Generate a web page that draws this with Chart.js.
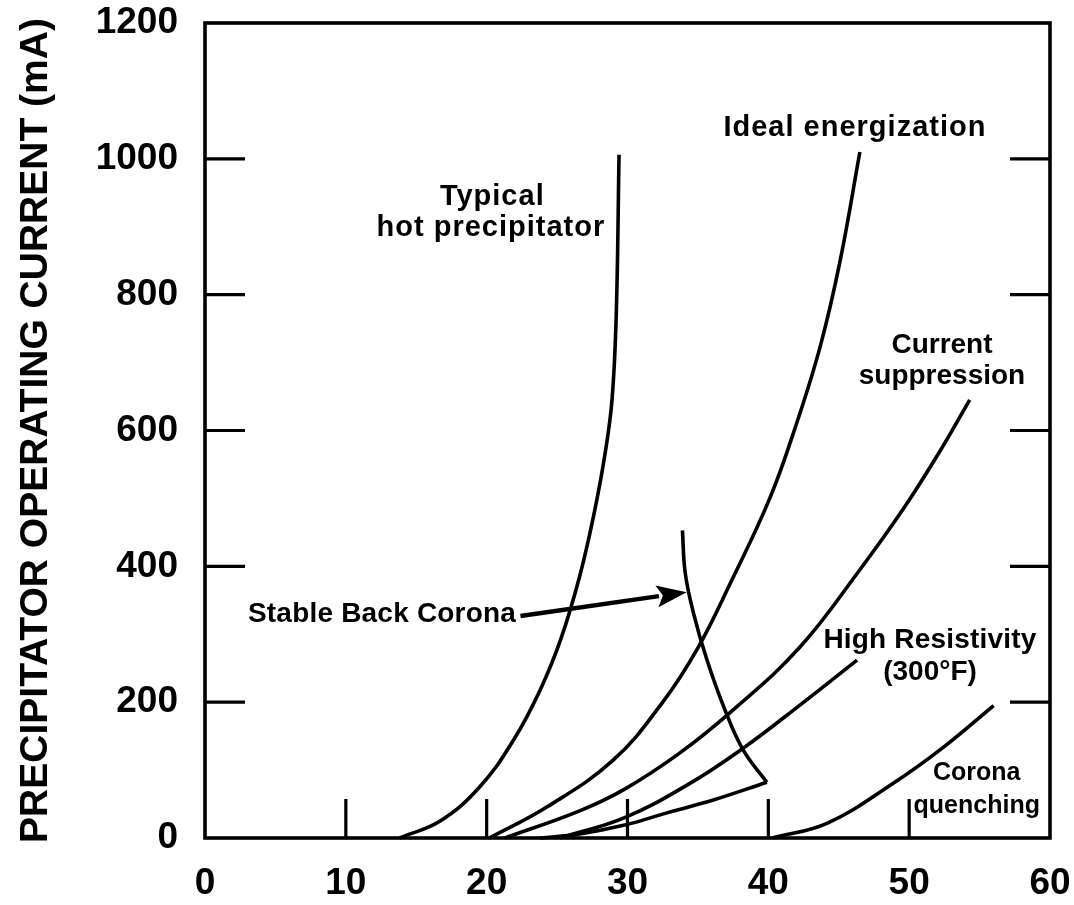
<!DOCTYPE html>
<html>
<head>
<meta charset="utf-8">
<script src="https://cdn.jsdelivr.net/npm/chart.js@4.4.0/dist/chart.umd.min.js"></script>
<style>
html,body{margin:0;padding:0;background:#fff;}
#wrap{width:1074px;height:905px;position:relative;}
</style>
</head>
<body>
<div id="wrap"><canvas id="c" width="1074" height="905"></canvas></div>
<script>
// ---- data (secondary voltage kV vs operating current mA) ----
const xTickValues = [0, 10, 20, 30, 40, 50, 60];
const yTickValues = [0, 200, 400, 600, 800, 1000, 1200];
const innerXTicks = [10, 20, 30, 40, 50];
const innerYTicks = [200, 400, 600, 800, 1000];

const hotPrecipitatorX = [13.8, 16.7, 19.5, 21.9, 23.8, 25.3, 26.6, 27.6, 28.4, 28.9, 29.2, 29.4];
const hotPrecipitatorY = [0, 25, 75, 144, 218, 295, 385, 475, 565, 645, 770, 1006];

const idealX = [20.2, 24.3, 29.0, 32.5, 35.0, 37.3, 40.1, 42.0, 43.7, 45.1, 46.5];
const idealY = [0, 46, 115, 200, 280, 375, 500, 610, 725, 850, 1010];

const suppressionX = [21.3, 26.6, 29.8, 33.7, 37.3, 42.2, 46.5, 49.6, 52.2, 54.3];
const suppressionY = [0, 40, 72, 125, 185, 280, 395, 485, 570, 645];

const highResX = [25.2, 29.8, 34.4, 38.2, 42.2, 46.3];
const highResY = [0, 30, 80, 132, 195, 262];

const backCoronaDownX = [33.9, 34.1, 34.7, 35.6, 36.8, 38.2, 39.9];
const backCoronaDownY = [453, 390, 330, 265, 195, 130, 82];
const backCoronaReturnX = [23.8, 26.6, 29.8, 32.8, 36.1, 39.9];
const backCoronaReturnY = [0, 6, 19, 37, 56, 82];

const quenchingX = [40.3, 44.2, 48.9, 52.4, 56.0];
const quenchingY = [0, 22, 81, 133, 195];

const yTitle = 'PRECIPITATOR OPERATING CURRENT (mA)';

// ---- annotations (text placed in data units) ----
const labels = [
  {text: 'Typical', x: 20.4, y: 944, align: 'center', size: 29, spacing: 1},
  {text: 'hot precipitator', x: 20.3, y: 898, align: 'center', size: 29, spacing: 1},
  {text: 'Ideal energization', x: 46.15, y: 1045, align: 'center', size: 29, spacing: 1},
  {text: 'Current', x: 52.33, y: 726, align: 'center', size: 28, spacing: 0},
  {text: 'suppression', x: 52.33, y: 680, align: 'center', size: 28, spacing: 0},
  {text: 'Stable Back Corona', x: 3.05, y: 330, align: 'left', size: 28, spacing: 0.2},
  {text: 'High Resistivity', x: 51.48, y: 291, align: 'center', size: 28, spacing: 0.2},
  {text: '(300\u00B0F)', x: 51.48, y: 244, align: 'center', size: 28, spacing: 0},
  {text: 'Corona', x: 54.8, y: 96, align: 'center', size: 25, spacing: 0},
  {text: 'quenching', x: 54.8, y: 47, align: 'center', size: 25, spacing: 0}
];
const arrowFrom = {x: 22.4, y: 327};
const arrowTo = {x: 34.2, y: 362};

const zip = (xs, ys) => xs.map((v, i) => ({x: v, y: ys[i]}));
const FONT = '"Liberation Sans", Arial, Helvetica, sans-serif';

function curve(label, xs, ys) {
  return {
    label: label,
    data: zip(xs, ys),
    showLine: true,
    borderColor: '#000',
    backgroundColor: '#000',
    borderWidth: 3.6,
    pointRadius: 0,
    pointHoverRadius: 0,
    tension: 0.4,
    fill: false,
    clip: false
  };
}

const decor = {
  id: 'decor',
  afterDatasetsDraw(chart) {
    const {ctx, chartArea: a, scales: {x, y}} = chart;
    ctx.save();
    ctx.strokeStyle = '#000';
    ctx.fillStyle = '#000';
    ctx.lineCap = 'butt';
    ctx.lineWidth = 3.6;
    ctx.strokeRect(a.left, a.top, a.right - a.left, a.bottom - a.top);
    ctx.lineWidth = 3.2;
    const seg = (x1, y1, x2, y2) => { ctx.beginPath(); ctx.moveTo(x1, y1); ctx.lineTo(x2, y2); ctx.stroke(); };
    innerXTicks.forEach(v => { const px = x.getPixelForValue(v); seg(px, a.bottom, px, a.bottom - 39); });
    innerYTicks.forEach(v => {
      const py = y.getPixelForValue(v);
      seg(a.left, py, a.left + 40, py);
      seg(a.right, py, a.right - 40, py);
    });
    // labels
    ctx.textBaseline = 'middle';
    labels.forEach(l => {
      ctx.font = 'bold ' + l.size + 'px ' + FONT;
      if ('letterSpacing' in ctx) ctx.letterSpacing = l.spacing + 'px';
      ctx.textAlign = l.align;
      ctx.fillText(l.text, x.getPixelForValue(l.x), y.getPixelForValue(l.y));
    });
    if ('letterSpacing' in ctx) ctx.letterSpacing = '0px';
    // arrow
    const x1 = x.getPixelForValue(arrowFrom.x), y1 = y.getPixelForValue(arrowFrom.y);
    const x2 = x.getPixelForValue(arrowTo.x), y2 = y.getPixelForValue(arrowTo.y);
    const ang = Math.atan2(y2 - y1, x2 - x1);
    const headLen = 30, headW = 11;
    const bx = x2 - headLen * Math.cos(ang), by = y2 - headLen * Math.sin(ang);
    ctx.lineWidth = 4.5;
    seg(x1, y1, bx + 2 * Math.cos(ang), by + 2 * Math.sin(ang));
    ctx.beginPath();
    ctx.moveTo(x2, y2);
    ctx.lineTo(bx - headW * Math.sin(ang), by + headW * Math.cos(ang));
    ctx.lineTo(bx + 6 * Math.cos(ang), by + 6 * Math.sin(ang));
    ctx.lineTo(bx + headW * Math.sin(ang), by - headW * Math.cos(ang));
    ctx.closePath();
    ctx.fill();
    ctx.restore();
  }
};

const tickFont = {family: FONT, weight: 'bold', size: 37};

new Chart(document.getElementById('c'), {
  type: 'scatter',
  data: {
    datasets: [
      curve('Typical hot precipitator', hotPrecipitatorX, hotPrecipitatorY),
      curve('Ideal energization', idealX, idealY),
      curve('Current suppression', suppressionX, suppressionY),
      curve('High Resistivity (300°F)', highResX, highResY),
      curve('Stable Back Corona', backCoronaDownX, backCoronaDownY),
      curve('Stable Back Corona return', backCoronaReturnX, backCoronaReturnY),
      curve('Corona quenching', quenchingX, quenchingY)
    ]
  },
  options: {
    responsive: false,
    animation: false,
    devicePixelRatio: 1,
    layout: {padding: {left: 0, right: 24, top: 23, bottom: 0}},
    plugins: {legend: {display: false}, tooltip: {enabled: false}},
    events: [],
    scales: {
      x: {
        type: 'linear',
        min: 0, max: 60,
        afterBuildTicks: s => { s.ticks = xTickValues.map(v => ({value: v})); },
        afterFit: s => { s.height = 67; s.paddingLeft = 0; s.paddingRight = 0; s.paddingTop = 0; s.paddingBottom = 0; },
        grid: {display: false, drawTicks: false},
        border: {display: false},
        ticks: {font: tickFont, color: '#000', padding: 24, maxRotation: 0, autoSkip: false,
                callback: v => String(v)}
      },
      y: {
        type: 'linear',
        min: 0, max: 1200,
        afterBuildTicks: s => { s.ticks = yTickValues.map(v => ({value: v})); },
        afterFit: s => { s.width = 205; s.paddingLeft = 0; s.paddingRight = 0; s.paddingTop = 0; s.paddingBottom = 0; },
        grid: {display: false, drawTicks: false},
        border: {display: false},
        ticks: {font: tickFont, color: '#000', padding: 27, autoSkip: false,
                callback: v => String(v)},
        title: {display: true, text: yTitle, color: '#000',
                font: {family: FONT, weight: 'bold', size: 39}, padding: {top: 13, bottom: 0}}
      }
    }
  },
  plugins: [decor]
});
</script>
</body>
</html>
